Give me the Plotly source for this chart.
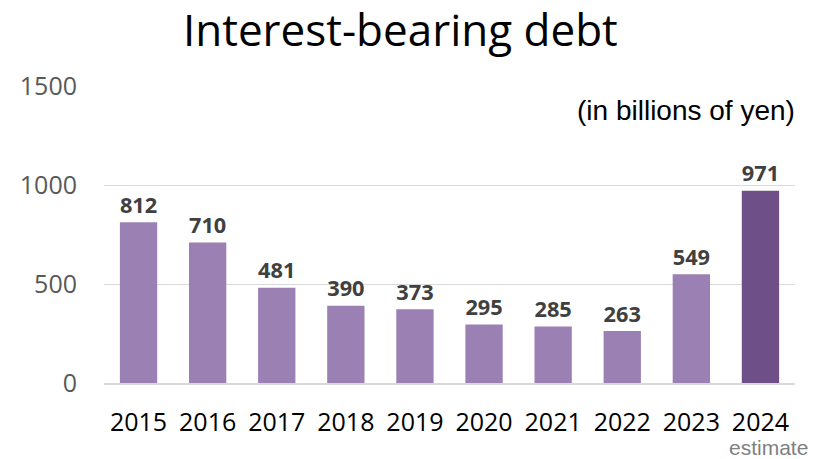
import plotly.graph_objects as go

years = ["2015", "2016", "2017", "2018", "2019", "2020", "2021", "2022", "2023", "2024"]
debt = [812, 710, 481, 390, 373, 295, 285, 263, 549, 971]
bar_colors = ["#9b80b3"] * 9 + ["#6e4f87"]

fig = go.Figure()
fig.add_trace(go.Bar(
    x=years, y=debt,
    marker=dict(color=bar_colors, line=dict(width=0)),
    text=[str(v) for v in debt],
    textposition="outside",
    textfont=dict(family="Open Sans", size=24, color="#404040", weight="bold"),
    cliponaxis=False,
    hoverinfo="x+y",
))

# page body has an 8px margin, so the figure is sized/offset to compensate
fig.update_layout(
    width=809, height=451,
    margin=dict(l=96, r=22, t=78, b=76),
    plot_bgcolor="white", paper_bgcolor="white",
    bargap=0.46,
    showlegend=False,
    title=dict(text="Interest-bearing debt", x=0.485, xanchor="center", y=0.95, yanchor="middle",
               font=dict(family="Open Sans", size=44, color="#000000")),
    font=dict(family="Open Sans"),
)
fig.update_yaxes(range=[0, 1500], dtick=500, showgrid=True, gridcolor="#d9d9d9", gridwidth=1.3,
                 zeroline=False, showline=False,
                 tickfont=dict(size=25, color="#595959"), ticklabelstandoff=26)
fig.update_xaxes(showline=True, linecolor="#d9d9d9", linewidth=1.5, showgrid=False,
                 tickfont=dict(size=25, color="#000000"), ticklabelstandoff=16)

fig.add_annotation(text="(in billions of yen)", xref="paper", yref="paper", x=1.003, y=0.919,
                   xanchor="right", yanchor="middle", showarrow=False,
                   font=dict(family="Liberation Sans", size=28, color="#000000"))
fig.add_annotation(text="estimate", xref="paper", yref="paper", x=1.022, y=-0.216,
                   xanchor="right", yanchor="middle", showarrow=False,
                   font=dict(family="Liberation Sans", size=21, color="#808080"))

fig.write_html("out.html")
